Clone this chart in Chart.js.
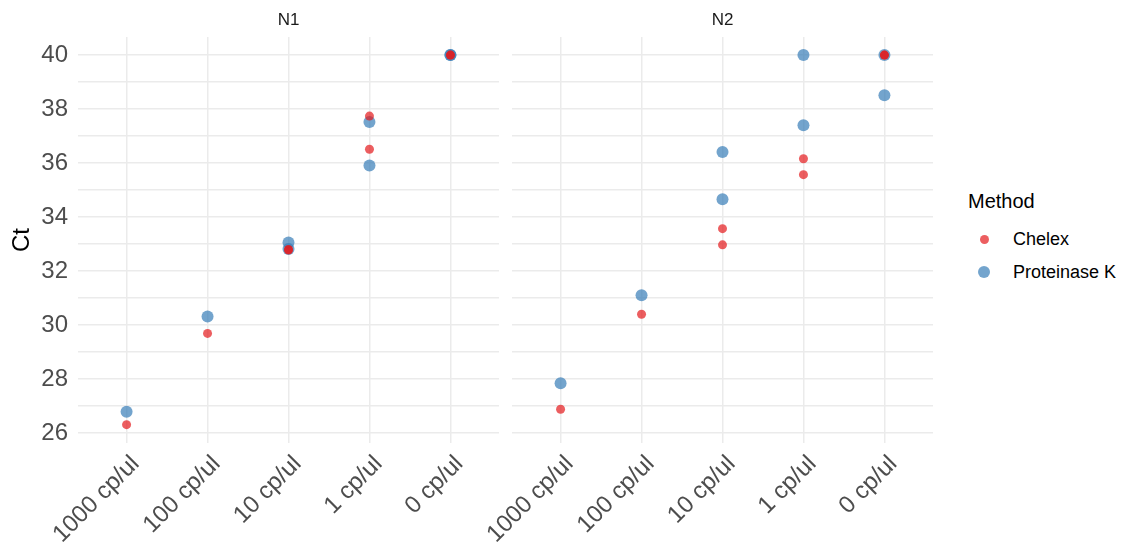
<!DOCTYPE html>
<html>
<head>
<meta charset="utf-8">
<script src="https://cdn.jsdelivr.net/npm/chart.js@4/dist/chart.umd.min.js"></script>
<style>
  body { margin: 0; background: #fff; width: 1121px; height: 542px; position: relative; overflow: hidden;
         font-family: "Liberation Sans", Arial, sans-serif; }
  canvas { position: absolute; top: 0; }
  .lg { position: absolute; white-space: nowrap; }
  .dot { position: absolute; border-radius: 50%; }
</style>
</head>
<body>
<canvas id="panelN1" width="505" height="542" style="left:0px"></canvas>
<canvas id="panelN2" width="505" height="542" style="left:434px"></canvas>
<div id="legend"></div>

<script>
// Dilution levels on the x axis
const categories = ['1000 cp/ul', '100 cp/ul', '10 cp/ul', '1 cp/ul', '0 cp/ul'];
const yLabels = [26, 28, 30, 32, 34, 36, 38, 40];

// Ct values per dilution (replicates)
const n1Chelex = [[26.31], [29.69], [32.80, 32.78], [37.74, 36.51], [40, 40]];
const n1ProtK  = [[26.79], [30.32], [33.06, 32.82], [37.52, 35.91], [40, 40]];
const n2Chelex = [[26.88], [30.40], [33.57, 32.97], [36.16, 35.57], [40, 40]];
const n2ProtK  = [[27.84], [31.10], [36.41, 34.66], [40, 37.40], [40, 38.51]];

const methods = ['Chelex', 'Proteinase K'];
const methodColors = ['rgba(228, 26, 28, 0.7)', 'rgba(55, 126, 184, 0.7)'];
const methodRadius = [4.5, 6];

const FONT = '"Liberation Sans", Arial, sans-serif';
const GRID = '#EBEBEB';

function toPoints(groups) {
    return groups.flatMap((vals, i) => vals.map(v => ({ x: i, y: v })));
}

// facet strip label over the plot area
const stripPlugin = {
    id: 'strip',
    afterDraw(chart, args, opts) {
        const ctx = chart.ctx;
        const area = chart.chartArea;
        ctx.save();
        ctx.font = '17px ' + FONT;
        ctx.fillStyle = '#1A1A1A';
        ctx.textAlign = 'center';
        ctx.textBaseline = 'middle';
        ctx.fillText(opts.text, (area.left + area.right) / 2, 20);
        ctx.restore();
    }
};

function makePanel(canvasId, label, chelex, protK, showY) {
    const ctx = document.getElementById(canvasId).getContext('2d');
    const series = [chelex, protK];
    return new Chart(ctx, {
        type: 'scatter',
        data: {
            datasets: methods.map((m, i) => ({
                label: m,
                data: toPoints(series[i]),
                pointRadius: methodRadius[i],
                pointHoverRadius: methodRadius[i],
                pointBackgroundColor: methodColors[i],
                pointBorderWidth: 0,
                pointBorderColor: methodColors[i]
            }))
        },
        options: {
            responsive: false,
            animation: false,
            devicePixelRatio: 1,
            events: [],
            layout: { padding: { top: 37, right: 5, left: 0, bottom: 0 } },
            scales: {
                x: {
                    type: 'linear',
                    min: -0.6,
                    max: 4.6,
                    afterBuildTicks: s => { s.ticks = categories.map((c, i) => ({ value: i })); },
                    afterFit: s => { s.height = 99; },
                    ticks: {
                        callback: v => categories[v],
                        minRotation: 45,
                        maxRotation: 45,
                        autoSkip: false,
                        padding: 7,
                        labelOffset: 9,
                        color: '#4D4D4D',
                        font: { family: FONT, size: 24 }
                    },
                    grid: { color: GRID, lineWidth: 1.5, drawTicks: false },
                    border: { display: false }
                },
                y: {
                    min: 25.63,
                    max: 40.67,
                    afterBuildTicks: s => {
                        const t = [];
                        for (let v = 26; v <= 40; v++) t.push({ value: v });
                        s.ticks = t;
                    },
                    afterFit: s => { s.width = 78; },
                    ticks: {
                        display: showY,
                        callback: v => yLabels.includes(v) ? String(v) : '',
                        autoSkip: false,
                        padding: 10,
                        color: '#4D4D4D',
                        font: { family: FONT, size: 24 }
                    },
                    title: {
                        display: showY,
                        text: 'Ct',
                        color: '#000',
                        padding: { top: 8, bottom: 0 },
                        font: { family: FONT, size: 24 }
                    },
                    grid: { color: GRID, lineWidth: 1.5, drawTicks: false },
                    border: { display: false }
                }
            },
            plugins: {
                legend: { display: false },
                tooltip: { enabled: false },
                strip: { text: label }
            }
        },
        plugins: [stripPlugin]
    });
}

makePanel('panelN1', 'N1', n1Chelex, n1ProtK, true);
makePanel('panelN2', 'N2', n2Chelex, n2ProtK, false);

// legend on the right
const legend = document.getElementById('legend');
const legendTitle = document.createElement('div');
legendTitle.className = 'lg';
legendTitle.textContent = 'Method';
legendTitle.style.cssText = 'left:968px; top:189px; font-size:20px; line-height:24px; color:#000;';
legend.appendChild(legendTitle);

const itemY = [239, 272];
methods.forEach((m, i) => {
    const d = methodRadius[i] * 2;
    const dot = document.createElement('div');
    dot.className = 'dot';
    dot.style.cssText = `left:${984 - d / 2}px; top:${itemY[i] - d / 2}px; width:${d}px; height:${d}px; background:${methodColors[i]};`;
    legend.appendChild(dot);
    const txt = document.createElement('div');
    txt.className = 'lg';
    txt.textContent = m;
    txt.style.cssText = `left:1013px; top:${itemY[i] - 11}px; font-size:18px; line-height:22px; color:#000;`;
    legend.appendChild(txt);
});
</script>
</body>
</html>
